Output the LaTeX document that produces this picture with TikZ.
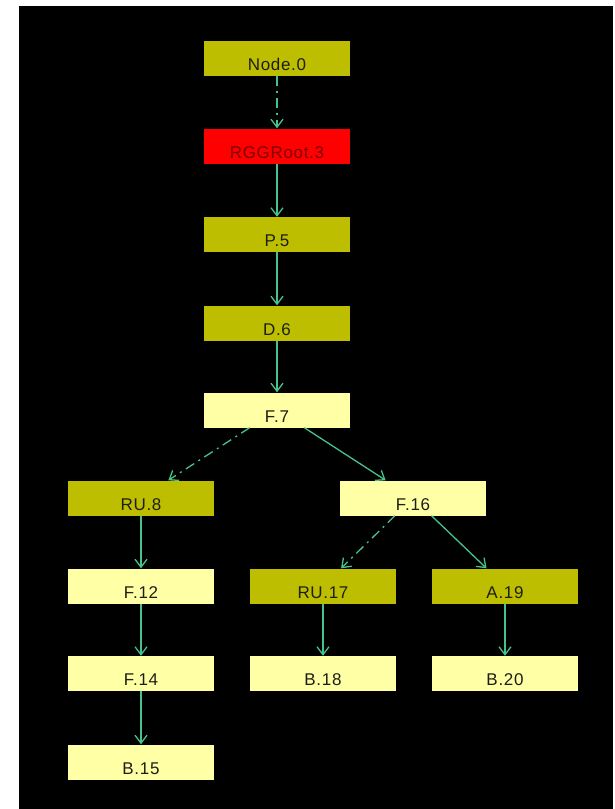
\documentclass[tikz,border=0pt]{standalone}
\usepackage{fontspec}
\setmainfont{Liberation Sans}[LetterSpace=4]
\usetikzlibrary{arrows.meta}
\definecolor{olivebox}{RGB}{190,190,0}
\definecolor{paleyellow}{RGB}{255,255,165}
\definecolor{rootred}{RGB}{255,0,0}
\definecolor{roottext}{RGB}{130,0,0}
\definecolor{edgegreen}{RGB}{70,195,140}
\definecolor{ink}{RGB}{30,30,20}
\tikzset{
  box/.style={rectangle, inner sep=0pt, minimum width=146pt, minimum height=35pt,
    text height=24pt, text depth=0pt,
    font=\fontsize{17}{19}\selectfont, text=ink},
  olive/.style={box, fill=olivebox},
  pale/.style={box, fill=paleyellow},
  rootbox/.style={box, fill=rootred, text=roottext},
  edge/.style={draw=edgegreen, line width=1.3pt,
    -{Straight Barb[length=8pt,width=12pt,line width=1.3pt]}},
  dashdot/.style={edge, dash pattern=on 10pt off 5pt on 2pt off 5pt}
}
\begin{document}
\begin{tikzpicture}[x=1pt, y=-1pt]
  % canvas: white page with the black drawing area
  \useasboundingbox (0,0) rectangle (615,809);
  \fill[white] (0,0) rectangle (615,809);
  \fill[black] (19,6) rectangle (613,809);

  % nodes
  \node[olive]   (n0)  at (277,58)    {Node.0};
  \node[rootbox] (n3)  at (277,146)   {RGGRoot.3};
  \node[olive]   (n5)  at (277,234.5) {P.5};
  \node[olive]   (n6)  at (277,323)   {D.6};
  \node[pale]    (n7)  at (277,410)   {F.7};
  \node[olive]   (n8)  at (141,498)   {RU.8};
  \node[pale]    (n16) at (413,498)   {F.16};
  \node[pale]    (n12) at (141,586)   {F.12};
  \node[olive]   (n17) at (323,586)   {RU.17};
  \node[olive]   (n19) at (505,586)   {A.19};
  \node[pale]    (n14) at (141,673.5) {F.14};
  \node[pale]    (n18) at (323,673.5) {B.18};
  \node[pale]    (n20) at (505,673.5) {B.20};
  \node[pale]    (n15) at (141,762)   {B.15};

  % connectors
  \draw[dashdot] (n0) -- (n3);
  \draw[edge] (n3) -- (n5);
  \draw[edge] (n5) -- (n6);
  \draw[edge] (n6) -- (n7);
  \draw[dashdot] (n7) -- (n8);
  \draw[edge] (n7) -- (n16);
  \draw[edge] (n8) -- (n12);
  \draw[edge] (n12) -- (n14);
  \draw[edge] (n14) -- (n15);
  \draw[dashdot] (n16) -- (n17);
  \draw[edge] (n16) -- (n19);
  \draw[edge] (n17) -- (n18);
  \draw[edge] (n19) -- (n20);
\end{tikzpicture}
\end{document}
